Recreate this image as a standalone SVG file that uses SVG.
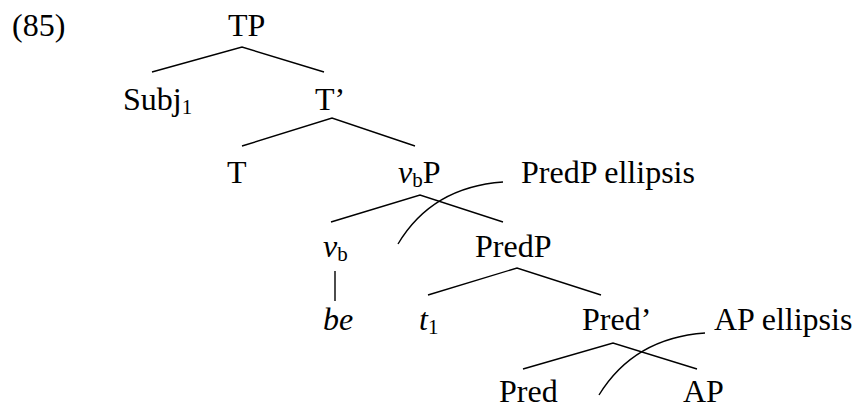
<svg xmlns="http://www.w3.org/2000/svg" width="856" height="408" viewBox="0 0 856 408">
<style>
text{font-family:'Liberation Serif','Times New Roman',serif;font-size:32px;fill:#000}
.sub{font-size:21px}
.i{font-style:italic}
.e{stroke:#000;stroke-width:1.4;fill:none}
</style>
<rect width="856" height="408" fill="#fff"/>
<text x="12" y="36">(85)</text>
<g id="TP"><text x="228" y="36">TP</text></g>
<g id="Subj"><text x="123" y="110">Subj<tspan class="sub" dy="4">1</tspan></text></g>
<g id="Tbar"><text x="315" y="110">T’</text></g>
<g id="T"><text x="227" y="183">T</text></g>
<g id="vbP"><text x="398" y="183"><tspan class="i">v</tspan><tspan class="sub" dy="4">b</tspan><tspan dy="-4">P</tspan></text></g>
<g id="PredPellipsis"><text x="521" y="183">PredP ellipsis</text></g>
<g id="vb"><text x="323" y="257"><tspan class="i">v</tspan><tspan class="sub" dy="4">b</tspan></text></g>
<g id="PredP"><text x="475" y="257">PredP</text></g>
<g id="be"><text x="323" y="330" class="i">be</text></g>
<g id="t1"><text x="419" y="330"><tspan class="i">t</tspan><tspan class="sub" dy="4">1</tspan></text></g>
<g id="Predbar"><text x="582" y="330">Pred’</text></g>
<g id="APellipsis"><text x="714" y="330">AP ellipsis</text></g>
<g id="Pred"><text x="499" y="402">Pred</text></g>
<g id="AP"><text x="683" y="402">AP</text></g>
<g id="connectors">
<path class="e" d="M152,72 L242,47 L324,72"/>
<path class="e" d="M242,146 L332,118 L415,146"/>
<path class="e" d="M331,222 L420,195 L503,222"/>
<path class="e" d="M335,271 L335,301"/>
<path class="e" d="M428,295 L517,268 L601,295"/>
<path class="e" d="M523,369 L613,343 L697,369"/>
<path class="e" d="M503,182 Q432,187 398,244"/>
<path class="e" d="M705,333 Q634,338 599,395"/>
</g>
</svg>
